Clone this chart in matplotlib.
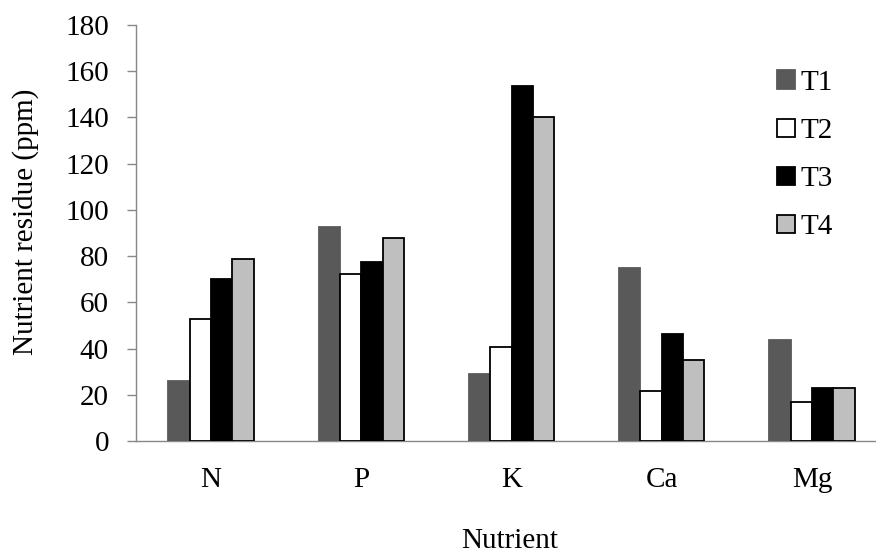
import numpy as np
import matplotlib.pyplot as plt
from matplotlib.patches import Patch

# Data
nutrients = ['N', 'P', 'K', 'Ca', 'Mg']
t1 = [26, 92.5, 29, 75, 43.7]
t2 = [52.6, 72.4, 40.8, 21.6, 17]
t3 = [70.2, 77.6, 153.7, 46.2, 22.8]
t4 = [78.9, 87.7, 140, 35, 23]
series_names = ['T1', 'T2', 'T3', 'T4']

plt.rcParams['font.family'] = ['Liberation Serif', 'DejaVu Serif']
FS = 21

fig = plt.figure(figsize=(8.76, 5.58), dpi=100)
ax = fig.add_axes([136 / 876, 1 - 441 / 558, 751 / 876, 416 / 558])

x = np.arange(len(nutrients))
w = 0.142
faces = ['#595959', 'white', 'black', '#bfbfbf']
edges = ['#595959', 'black', 'black', 'black']
for i, (vals, fc, ec) in enumerate(zip([t1, t2, t3, t4], faces, edges)):
    ax.bar(x + (i - 1.5) * w, vals, w, color=fc, edgecolor=ec,
           linewidth=1.3, zorder=3)

ax.set_xlim(-0.5, len(nutrients) - 0.5)
ax.set_ylim(0, 180)
ax.set_yticks(range(0, 181, 20))
ax.set_xticks(x)
ax.set_xticklabels(nutrients)

for s in ['top', 'right']:
    ax.spines[s].set_visible(False)
for s in ['left', 'bottom']:
    ax.spines[s].set_color('#888888')
    ax.spines[s].set_linewidth(1.0)
ax.tick_params(axis='y', colors='#888888', length=6.5, width=1.0,
               labelsize=FS, labelcolor='black', pad=13)
ax.tick_params(axis='x', length=0, labelsize=FS, pad=19)

fig.text(26 / 876, 1 - 222 / 558, 'Nutrient residue (ppm)', fontsize=FS,
         rotation=90, ha='center', va='center')
fig.text(510 / 876, 1 - 541 / 558, 'Nutrient', fontsize=FS,
         ha='center', va='center')

handles = [Patch(facecolor=fc, edgecolor=ec, linewidth=1.3)
           for fc, ec in zip(faces, edges)]
ax.legend(handles, series_names, loc='upper left',
          bbox_to_anchor=(777 / 876, 1 - 70 / 558),
          bbox_transform=fig.transFigure, frameon=False, fontsize=FS,
          handlelength=0.6, handleheight=0.6, handletextpad=0.2,
          labelspacing=0.76, borderpad=0, borderaxespad=0)

fig.savefig('out.png', dpi=100)
